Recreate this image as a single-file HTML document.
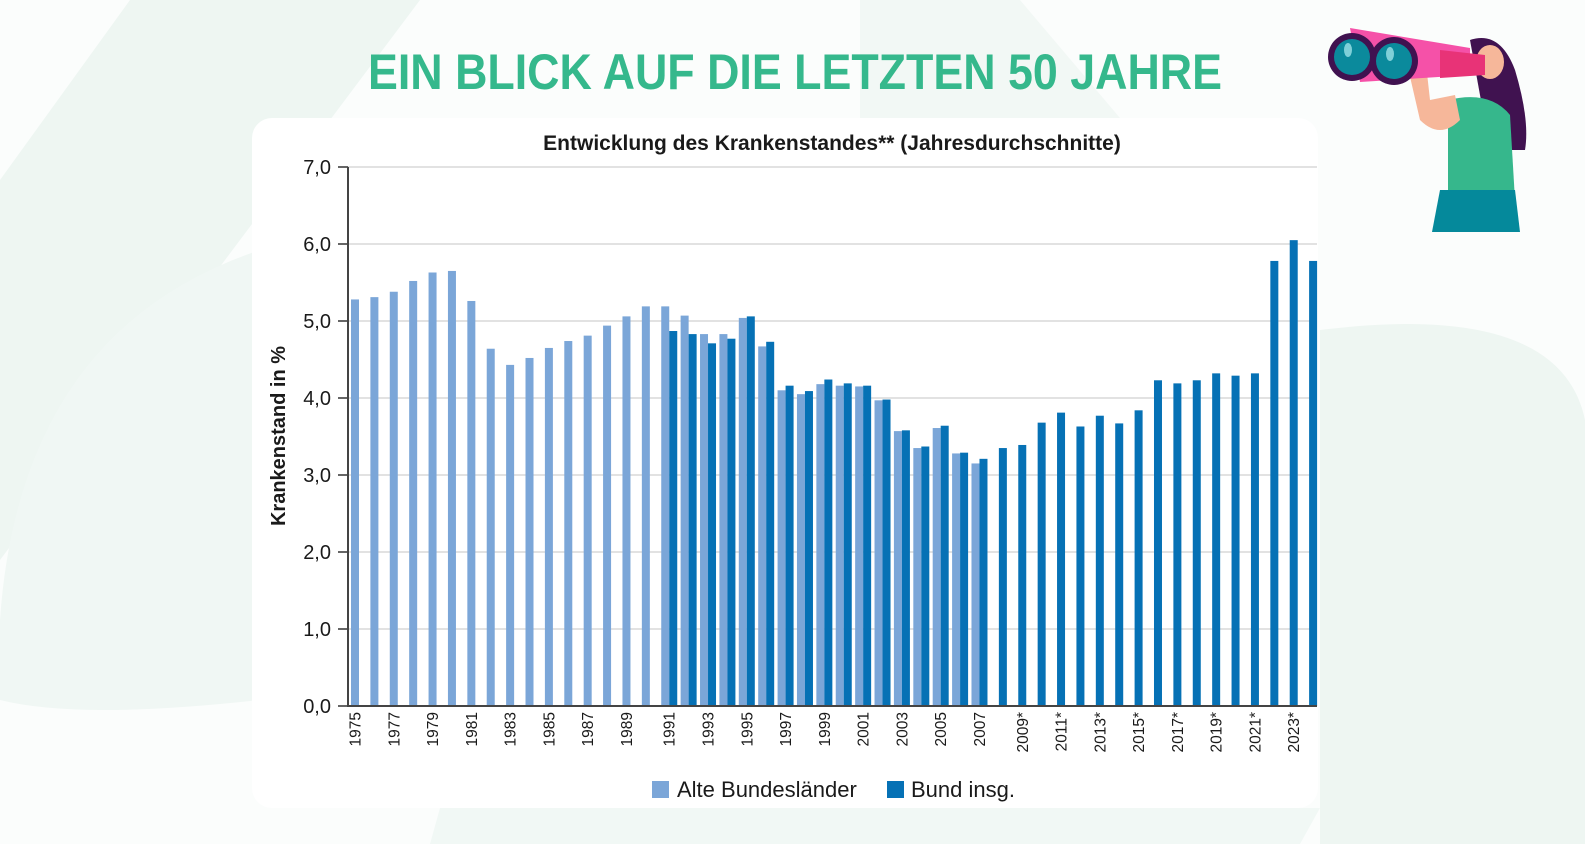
<!DOCTYPE html>
<html><head><meta charset="utf-8"><style>
html,body{margin:0;padding:0;background:#fff;}
svg{display:block;font-family:"Liberation Sans","DejaVu Sans",sans-serif;}
</style></head><body>
<svg width="1585" height="844" viewBox="0 0 1585 844" xmlns="http://www.w3.org/2000/svg">
<rect width="1585" height="844" fill="#fbfdfc"/>
<polygon points="0,180 130,0 420,0 0,560" fill="#eef6f2"/>
<path d="M0,620 Q20,330 260,250 L260,700 Q80,720 0,700 Z" fill="#f0f7f4"/>
<polygon points="860,0 1020,0 1120,118 860,118" fill="#f2f8f5"/>
<path d="M1320,330 Q1560,300 1585,420 L1585,844 L1320,844 Z" fill="#eef6f2"/>
<polygon points="440,808 1320,808 1300,844 430,844" fill="#f1f8f5"/>
<rect x="252" y="118" width="1066" height="690" rx="20" fill="#ffffff"/>
<text x="368" y="89" textLength="854" lengthAdjust="spacingAndGlyphs" font-size="50" font-weight="bold" fill="#35b88c">EIN BLICK AUF DIE LETZTEN 50 JAHRE</text>
<text x="832" y="150" text-anchor="middle" font-size="21" font-weight="bold" fill="#1a1a1a">Entwicklung des Krankenstandes** (Jahresdurchschnitte)</text>
<g stroke="#d9d9d9" stroke-width="1.5">
<line x1="348" y1="167" x2="1317" y2="167"/>
<line x1="348" y1="244" x2="1317" y2="244"/>
<line x1="348" y1="321" x2="1317" y2="321"/>
<line x1="348" y1="398" x2="1317" y2="398"/>
<line x1="348" y1="475" x2="1317" y2="475"/>
<line x1="348" y1="552" x2="1317" y2="552"/>
<line x1="348" y1="629" x2="1317" y2="629"/>
</g>
<g font-size="20" fill="#1a1a1a" text-anchor="end">
<text x="331" y="174">7,0</text><text x="331" y="251">6,0</text><text x="331" y="328">5,0</text>
<text x="331" y="405">4,0</text><text x="331" y="482">3,0</text><text x="331" y="559">2,0</text>
<text x="331" y="636">1,0</text><text x="331" y="713">0,0</text>
</g>
<g stroke="#333" stroke-width="1.5">
<line x1="338" y1="167" x2="348" y2="167"/><line x1="338" y1="244" x2="348" y2="244"/>
<line x1="338" y1="321" x2="348" y2="321"/><line x1="338" y1="398" x2="348" y2="398"/>
<line x1="338" y1="475" x2="348" y2="475"/><line x1="338" y1="552" x2="348" y2="552"/>
<line x1="338" y1="629" x2="348" y2="629"/><line x1="338" y1="706" x2="348" y2="706"/>
</g>
<text transform="translate(285,436) rotate(-90)" text-anchor="middle" font-size="20" font-weight="bold" fill="#1a1a1a">Krankenstand in %</text>
<g id="bars"></g>
<g id="xl" font-size="15.5" fill="#1a1a1a"></g>
<line x1="348" y1="167" x2="348" y2="707" stroke="#444" stroke-width="2"/>
<line x1="347" y1="706" x2="1317" y2="706" stroke="#444" stroke-width="2"/>
<rect x="652" y="781" width="17" height="17" fill="#7ba6d8"/>
<text x="677" y="797" font-size="22" fill="#1a1a1a">Alte Bundesländer</text>
<rect x="887" y="781" width="17" height="17" fill="#0671b5"/>
<text x="911" y="797" font-size="22" fill="#1a1a1a">Bund insg.</text>
<g>
<path d="M1470,40 Q1500,30 1515,70 Q1530,120 1525,150 L1490,150 Z" fill="#401250"/>
<path d="M1448,100 Q1490,90 1510,115 L1515,200 L1448,200 Z" fill="#36b78c"/>
<path d="M1440,190 L1515,190 L1520,232 L1432,232 Z" fill="#05899b"/>
<path d="M1405,55 L1420,120 Q1440,140 1460,120 L1455,95 L1430,100 L1425,55 Z" fill="#f6b79a"/>
<ellipse cx="1490" cy="62" rx="14" ry="17" fill="#f6b79a"/>
<path d="M1350,28 L1470,48 L1470,75 L1360,82 Z" fill="#f551a8"/>
<path d="M1440,50 L1485,55 L1485,75 L1440,78 Z" fill="#e83377"/>
<circle cx="1352" cy="57" r="24" fill="#401250"/><circle cx="1352" cy="57" r="18" fill="#0b8a9c"/>
<circle cx="1394" cy="61" r="24" fill="#401250"/><circle cx="1394" cy="61" r="18" fill="#0b8a9c"/>
<ellipse cx="1348" cy="50" rx="4" ry="7" fill="#7fd0d8"/><ellipse cx="1390" cy="54" rx="4" ry="7" fill="#7fd0d8"/>
</g>
<script>
var light={1975:5.28,1976:5.31,1977:5.38,1978:5.52,1979:5.63,1980:5.65,1981:5.26,1982:4.64,1983:4.43,1984:4.52,1985:4.65,1986:4.74,1987:4.81,1988:4.94,1989:5.06,1990:5.19,1991:5.19,1992:5.07,1993:4.83,1994:4.83,1995:5.04,1996:4.67,1997:4.10,1998:4.05,1999:4.18,2000:4.16,2001:4.15,2002:3.97,2003:3.57,2004:3.35,2005:3.61,2006:3.28,2007:3.15};
var dark={1991:4.87,1992:4.83,1993:4.71,1994:4.77,1995:5.06,1996:4.73,1997:4.16,1998:4.09,1999:4.24,2000:4.19,2001:4.16,2002:3.98,2003:3.58,2004:3.37,2005:3.64,2006:3.29,2007:3.21,2008:3.35,2009:3.39,2010:3.68,2011:3.81,2012:3.63,2013:3.77,2014:3.67,2015:3.84,2016:4.23,2017:4.19,2018:4.23,2019:4.32,2020:4.29,2021:4.32,2022:5.78,2023:6.05,2024:5.78};
var NS="http://www.w3.org/2000/svg",g=document.getElementById("bars"),xl=document.getElementById("xl");
function r(x,v,c){var e=document.createElementNS(NS,"rect");var h=v*77;e.setAttribute("x",x);e.setAttribute("y",706-h);e.setAttribute("width",8);e.setAttribute("height",h);e.setAttribute("fill",c);g.appendChild(e);}
for(var y=1975;y<=2024;y++){var i=y-1975,x=351+i*19.39;
 if(light[y]!==undefined)r(x,light[y],"#7ba6d8");
 if(dark[y]!==undefined)r(x+8,dark[y],"#0671b5");
 if(y%2==1){var t=document.createElementNS(NS,"text");var cx=x+(y>=2009?12:(y>=1991?8:4))+5.5;
  t.setAttribute("transform","translate("+cx+",712) rotate(-90)");t.setAttribute("text-anchor","end");
  t.textContent=y+(y>=2009?"*":"");xl.appendChild(t);}
}
</script>
</svg>
</body></html>
